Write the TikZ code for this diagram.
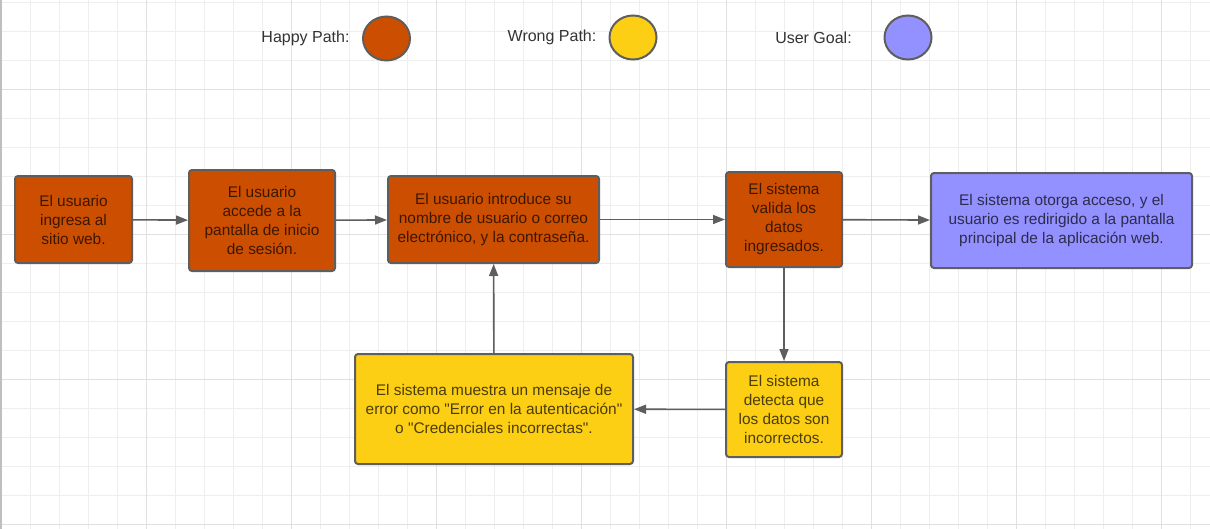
\documentclass[tikz,border=0pt]{standalone}
\usepackage{fontspec}
\setmainfont{Liberation Sans}[Ligatures=TeXOff]
\usepackage{tikz}
\usetikzlibrary{arrows.meta,shapes}

\definecolor{happy}{HTML}{CC4E00}
\definecolor{wrong}{HTML}{FCCE14}
\definecolor{goal}{HTML}{9391FF}
\definecolor{edge}{HTML}{5E5E5E}
\definecolor{minorgrid}{HTML}{EEEEEE}
\definecolor{majorgrid}{HTML}{E0E0E0}
\definecolor{legendtext}{HTML}{333333}

\tikzset{
  stepbox/.style={draw=edge,line width=2bp,rounded corners=3bp,inner sep=0pt,
    align=center,text opacity=0.7,font=\fontsize{15.4bp}{19bp}\selectfont},
  legend/.style={text=legendtext,inner sep=0pt,font=\fontsize{16bp}{19bp}\selectfont},
  dot/.style={draw=edge,line width=2bp,ellipse,inner sep=0pt,minimum width=47bp,minimum height=44bp},
  flow/.style={-{Triangle[length=12bp,width=9bp]},draw=edge,line width=1.6bp}
}

\begin{document}
\begin{tikzpicture}

\useasboundingbox (0,0) rectangle (1210bp,-529bp);
\fill[white] (0,0) rectangle (1210bp,-529bp);

% grid
\foreach \i in {0,...,41} \draw[minorgrid,line width=1bp] ({(1+29*\i)*1bp},0) -- ({(1+29*\i)*1bp},-529bp);
\foreach \j in {0,...,18} \draw[minorgrid,line width=1bp] (0,{(-2-29*\j)*1bp}) -- (1210bp,{(-2-29*\j)*1bp});
\foreach \i in {1,...,8} \draw[majorgrid,line width=1bp] ({(1+145*\i)*1bp},0) -- ({(1+145*\i)*1bp},-529bp);
\foreach \j in {0,...,3} \draw[majorgrid,line width=1bp] (0,{(-89-145*\j)*1bp}) -- (1210bp,{(-89-145*\j)*1bp});
\draw[gray!50,line width=1.6bp] (0.8bp,0) -- (0.8bp,-529bp);

% legend
\node (L1) at (305.5bp,-38bp)[legend] {Happy Path:};
\node (C1) at (386.5bp,-38.5bp)[dot,fill=happy] {};
\node (L2) at (552bp,-37.5bp)[legend] {Wrong Path:};
\node (C2) at (633bp,-37.5bp)[dot,fill=wrong] {};
\node (L3) at (813.5bp,-37.5bp)[legend] {User Goal:};
\node (C3) at (908bp,-37.5bp)[dot,fill=goal] {};

% steps
\node (S1) at (73.5bp,-219.5bp)[stepbox,fill=happy,minimum width=117bp,minimum height=87bp] {El usuario\\ingresa al\\sitio web.};
\node (S2) at (262bp,-220.5bp)[stepbox,fill=happy,minimum width=146bp,minimum height=101bp] {El usuario\\accede a la\\pantalla de inicio\\de sesión.};
\node (S3) at (493.5bp,-219.5bp)[stepbox,fill=happy,minimum width=211bp,minimum height=87bp] {El usuario introduce su\\nombre de usuario o correo\\electrónico, y la contraseña.};
\node (S4) at (784bp,-219.5bp)[stepbox,fill=happy,minimum width=116bp,minimum height=95bp] {El sistema\\valida los\\datos\\ingresados.};
\node (S5) at (1061.5bp,-220.5bp)[stepbox,fill=goal,minimum width=261bp,minimum height=95bp] {El sistema otorga acceso, y el\\usuario es redirigido a la pantalla\\principal de la aplicación web.};
\node (S6) at (494bp,-409bp)[stepbox,fill=wrong,minimum width=278bp,minimum height=110bp] {El sistema muestra un mensaje de\\error como "Error en la autenticación"\\o "Credenciales incorrectas".};
\node (S7) at (784bp,-409.5bp)[stepbox,fill=wrong,minimum width=116bp,minimum height=95bp] {El sistema\\detecta que\\los datos son\\incorrectos.};

\draw [flow] (S1) -- (S2);
\draw [flow] (S2) -- (S3);
\draw [flow] (S3) -- (S4);
\draw [flow] (S4) -- (S5);
\draw [flow] (S4) -- (S7);
\draw [flow] (S7) -- (S6);
\draw [flow] (S6) -- (S3);
\end{tikzpicture}
\end{document}
